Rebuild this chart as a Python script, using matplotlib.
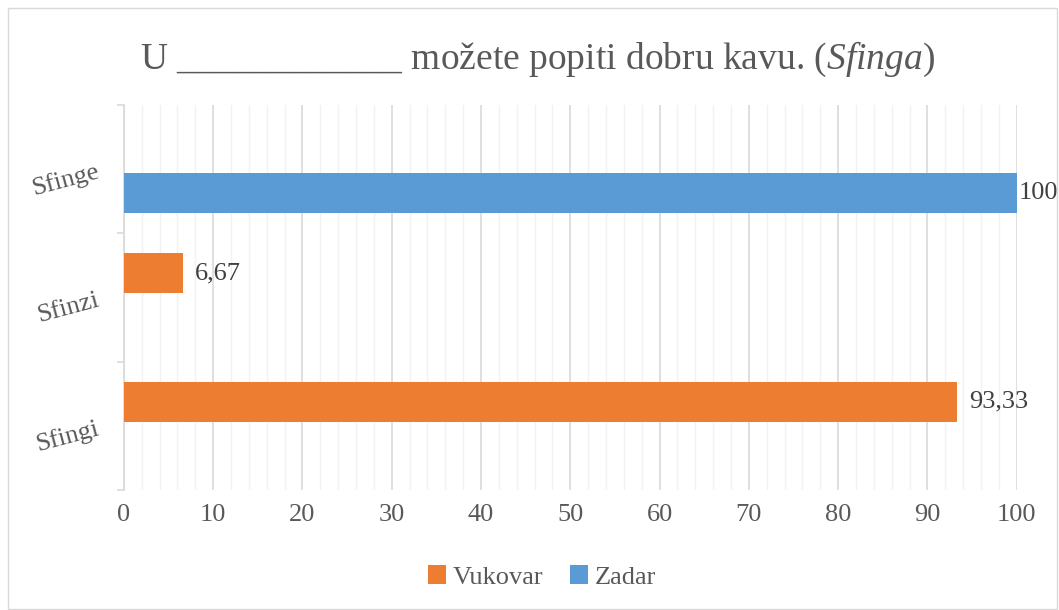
import matplotlib.pyplot as plt
from matplotlib.patches import Rectangle
from matplotlib.ticker import MultipleLocator, FixedLocator

plt.rcParams['font.family'] = ['Liberation Serif', 'DejaVu Serif']
plt.rcParams['mathtext.fontset'] = 'custom'
plt.rcParams['mathtext.rm'] = 'Liberation Serif'
plt.rcParams['mathtext.it'] = 'Liberation Serif:italic'

categories = ['Sfingi', 'Sfinzi', 'Sfinge']
vukovar = [93.33, 6.67, 0]
zadar = [0, 0, 100]
labels_vukovar = ['93,33', '6,67', '']
labels_zadar = ['', '', '100']

orange = '#ed7d31'
blue = '#5b9bd5'
grey = '#595959'
fs = 19

fig = plt.figure(figsize=(10.59, 6.10), dpi=100)
ax = fig.add_axes([0.117, 0.197, 0.843, 0.631])

pos = range(len(categories))
off = 0.1875
h = 0.31
ax.barh([p + off for p in pos], vukovar, height=h, color=orange, label='Vukovar', zorder=3)
ax.barh([p - off for p in pos], zadar, height=h, color=blue, label='Zadar', zorder=3)

for p, v, t in zip(pos, vukovar, labels_vukovar):
    if t:
        ax.text(v + 1.3, p + off, t, va='center', ha='left', fontsize=fs, color='#404040')
for p, v, t in zip(pos, zadar, labels_zadar):
    if t:
        ax.text(v + 0.2, p - off, t, va='center', ha='left', fontsize=fs, color='#404040')

ax.set_xlim(0, 100)
ax.set_ylim(-0.5, 2.5)
ax.xaxis.set_major_locator(MultipleLocator(10))
ax.xaxis.set_minor_locator(MultipleLocator(2))
ax.grid(which='major', axis='x', color='#d9d9d9', linewidth=1.2, zorder=0)
ax.grid(which='minor', axis='x', color='#f2f2f2', linewidth=1.0, zorder=0)

ax.set_yticks(list(pos))
ax.set_yticklabels(categories, rotation=15, fontsize=fs, color=grey)
ax.yaxis.set_minor_locator(FixedLocator([-0.5, 0.5, 1.5, 2.5]))
ax.tick_params(axis='y', which='major', length=0, pad=16)
ax.tick_params(axis='y', which='minor', length=5, color='#d9d9d9', width=1.2)
ax.tick_params(axis='x', which='both', length=0, labelsize=fs, labelcolor=grey, pad=10)

for s in ['top', 'right', 'bottom']:
    ax.spines[s].set_visible(False)
ax.spines['left'].set_color('#d9d9d9')
ax.spines['left'].set_linewidth(1.2)

fig.text(0.508, 0.902, 'U ____________ možete popiti dobru kavu. ($\\mathit{Sfinga}$)',
         ha='center', va='center', fontsize=27, color=grey)

handles, labs = ax.get_legend_handles_labels()
fig.legend(handles, labs, loc='center', bbox_to_anchor=(0.512, 0.054), ncol=2, frameon=False,
           fontsize=fs, labelcolor=grey, handlelength=0.7, handleheight=0.7,
           handletextpad=0.25, columnspacing=1.0)

fig.patches.append(Rectangle((0.008, 0.002), 0.990, 0.985, transform=fig.transFigure,
                             fill=False, edgecolor='#d9d9d9', linewidth=1))

fig.savefig('out.png', dpi=100)
